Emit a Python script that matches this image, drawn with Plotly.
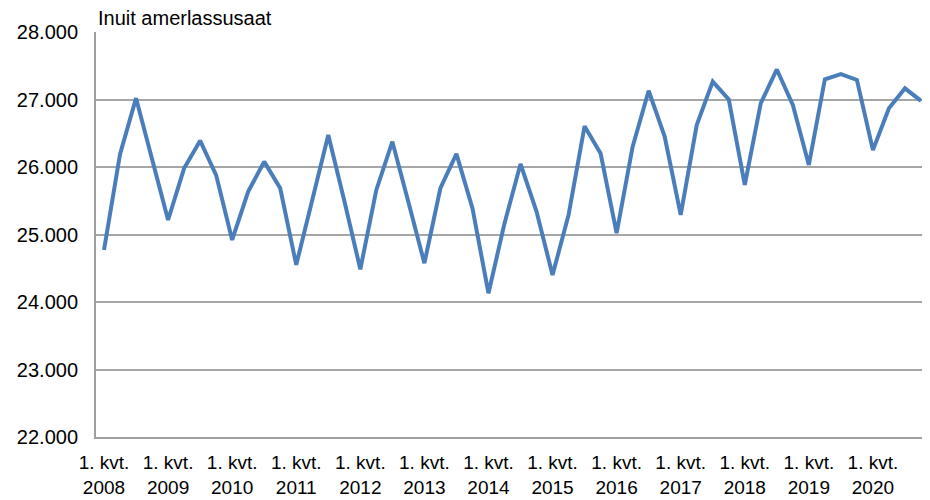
import plotly.graph_objects as go

years = list(range(2008, 2021))
quarters = [f"{y}K{q}" for y in years for q in range(1, 5)]

values = [
    24770, 26190, 27020, 26120,
    25215, 25980, 26390, 25880,
    24920, 25635, 26080, 25685,
    24550, 25510, 26475, 25500,
    24485, 25660, 26375, 25480,
    24575, 25685, 26195, 25390,
    24130, 25165, 26045, 25340,
    24400, 25290, 26605, 26200,
    25020, 26300, 27130, 26450,
    25290, 26620, 27265, 27000,
    25735, 26945, 27445, 26920,
    26030, 27300, 27375, 27290,
    26250, 26870, 27165, 26980,
]

tick_vals = [f"{y}K1" for y in years]
tick_text = [f"1. kvt.<br>{y}" for y in years]

y_ticks = [22000, 23000, 24000, 25000, 26000, 27000, 28000]
y_text = ["22.000", "23.000", "24.000", "25.000", "26.000", "27.000", "28.000"]

fig = go.Figure()
fig.add_trace(go.Scatter(
    x=quarters, y=values, mode="lines",
    line=dict(color="#4a7ebb", width=4),
    hoverinfo="x+y",
))

# page body has an 8px margin, so the figure is 8px smaller than the window
fig.update_layout(
    width=922, height=492,
    margin=dict(l=88, r=1, t=24, b=63),
    paper_bgcolor="white", plot_bgcolor="white",
    font=dict(family="Liberation Sans, Arial, sans-serif", size=16, color="#000000"),
    showlegend=False,
    xaxis=dict(
        type="category",
        categoryorder="array", categoryarray=quarters,
        range=[-0.5, len(quarters) - 0.5],
        tickmode="array", tickvals=tick_vals, ticktext=tick_text,
        showgrid=False, showline=True, linecolor="#a0a0a0", linewidth=2,
        ticks="outside", ticklen=7, tickcolor="rgba(0,0,0,0)",
        tickfont=dict(size=19),
        tickangle=0,
        automargin=False,
    ),
    yaxis=dict(
        range=[22000, 28000],
        tickmode="array", tickvals=y_ticks, ticktext=y_text,
        showgrid=True, gridcolor="#a6a6a6", gridwidth=2,
        showline=True, linecolor="#a0a0a0", linewidth=2,
        zeroline=False,
        ticks="outside", ticklen=12, tickcolor="rgba(0,0,0,0)",
        tickfont=dict(size=20),
        automargin=False,
    ),
    annotations=[dict(
        text="Inuit amerlassusaat", xref="paper", yref="paper",
        x=0, y=1, xanchor="left", yanchor="bottom", yshift=1,
        showarrow=False, font=dict(size=20),
    )],
)

fig.write_html("out.html")
